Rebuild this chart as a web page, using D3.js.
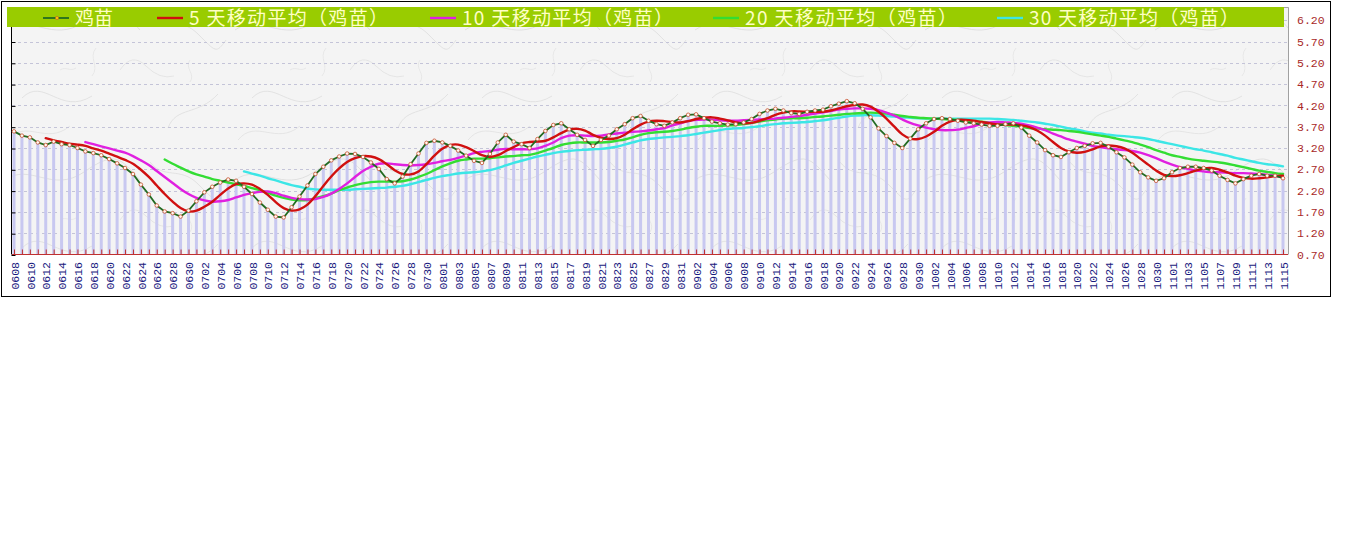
<!DOCTYPE html>
<html><head><meta charset="utf-8">
<script src="https://cdn.jsdelivr.net/npm/d3@7"></script>
<style>html,body{margin:0;padding:0;background:#fff;}svg{display:block}</style>
</head><body>
<svg id="chart" width="1345" height="541"></svg>
<script>
// ---------- data ----------
const dates = [
"0608","0609","0610","0611","0612","0613","0614","0615","0616","0617","0618","0619","0620","0621","0622","0623","0624","0625","0626","0627","0628","0629","0630",
"0701","0702","0703","0704","0705","0706","0707","0708","0709","0710","0711","0712","0713","0714","0715","0716","0717","0718","0719","0720","0721","0722","0723","0724","0725","0726","0727","0728","0729","0730","0731",
"0801","0802","0803","0804","0805","0806","0807","0808","0809","0810","0811","0812","0813","0814","0815","0816","0817","0818","0819","0820","0821","0822","0823","0824","0825","0826","0827","0828","0829","0830","0831",
"0901","0902","0903","0904","0905","0906","0907","0908","0909","0910","0911","0912","0913","0914","0915","0916","0917","0918","0919","0920","0921","0922","0923","0924","0925","0926","0927","0928","0929","0930",
"1001","1002","1003","1004","1005","1006","1007","1008","1009","1010","1011","1012","1013","1014","1015","1016","1017","1018","1019","1020","1021","1022","1023","1024","1025","1026","1027","1028","1029","1030","1031",
"1101","1102","1103","1104","1105","1106","1107","1108","1109","1110","1111","1112","1113","1114","1115"];

const price = [
3.59,3.49,3.45,3.33,3.27,3.35,3.29,3.27,3.20,3.12,
3.08,3.03,2.94,2.84,2.73,2.59,2.34,2.11,1.85,1.71,
1.67,1.59,1.73,1.95,2.16,2.29,2.39,2.46,2.43,2.29,
2.12,1.92,1.75,1.59,1.57,1.81,2.06,2.32,2.59,2.76,
2.91,3.00,3.07,3.06,2.99,2.86,2.71,2.47,2.37,2.53,
2.82,3.07,3.32,3.37,3.33,3.25,3.14,3.02,2.90,2.85,
3.06,3.33,3.51,3.35,3.29,3.20,3.41,3.60,3.74,3.78,
3.64,3.51,3.39,3.25,3.39,3.49,3.64,3.76,3.90,3.95,
3.84,3.76,3.72,3.80,3.90,3.98,3.99,3.90,3.82,3.78,
3.75,3.76,3.80,3.88,4.00,4.08,4.12,4.08,4.02,4.00,
4.05,4.08,4.10,4.18,4.24,4.30,4.25,4.12,3.92,3.66,
3.48,3.32,3.20,3.42,3.64,3.78,3.88,3.90,3.88,3.84,
3.80,3.78,3.75,3.72,3.72,3.76,3.78,3.68,3.49,3.33,
3.15,3.03,2.99,3.10,3.20,3.25,3.31,3.32,3.23,3.10,
2.98,2.81,2.63,2.51,2.43,2.49,2.63,2.73,2.76,2.76,
2.73,2.67,2.55,2.45,2.37,2.47,2.55,2.59,2.55,2.55,2.49];

const ma5 = [null,null,null,null,
3.43,3.38,3.34,3.30,3.28,3.25,3.19,3.14,3.07,3.00,
2.92,2.83,2.69,2.52,2.32,2.12,1.94,1.79,1.71,1.73,
1.82,1.94,2.10,2.25,2.35,2.37,2.34,2.24,2.10,1.93,
1.79,1.73,1.76,1.87,2.07,2.31,2.53,2.72,2.87,2.96,
3.01,3.00,2.94,2.82,2.68,2.59,2.58,2.65,2.82,3.02,
3.18,3.27,3.28,3.22,3.13,3.03,2.99,3.03,3.13,3.22,
3.31,3.34,3.35,3.37,3.45,3.55,3.63,3.65,3.61,3.51,
3.44,3.41,3.43,3.51,3.64,3.75,3.82,3.84,3.83,3.81,
3.80,3.83,3.88,3.91,3.92,3.89,3.85,3.80,3.78,3.79,
3.84,3.90,3.98,4.03,4.06,4.06,4.05,4.05,4.05,4.08,
4.13,4.18,4.21,4.22,4.17,4.05,3.89,3.70,3.52,3.42,
3.41,3.47,3.58,3.72,3.82,3.86,3.86,3.84,3.81,3.78,
3.75,3.75,3.75,3.73,3.69,3.61,3.49,3.34,3.20,3.12,
3.09,3.11,3.17,3.24,3.26,3.24,3.19,3.09,2.95,2.81,
2.67,2.57,2.54,2.56,2.61,2.67,2.72,2.73,2.69,2.63,
2.55,2.50,2.48,2.49,2.51,2.54,2.55];

const ma10 = [null,null,null,null,null,null,null,null,null,
3.34,3.29,3.24,3.19,3.14,3.09,3.01,2.91,2.80,2.66,
2.52,2.38,2.24,2.12,2.03,1.97,1.94,1.95,1.98,2.04,
2.10,2.14,2.17,2.18,2.14,2.08,2.03,2.00,1.99,2.00,
2.05,2.13,2.24,2.37,2.52,2.66,2.76,2.83,2.84,2.82,
2.80,2.79,2.80,2.82,2.85,2.89,2.92,2.97,3.02,3.08,
3.11,3.13,3.16,3.18,3.17,3.17,3.17,3.19,3.25,3.33,
3.43,3.49,3.50,3.49,3.48,3.49,3.52,3.54,3.56,3.58,
3.59,3.61,3.64,3.67,3.73,3.78,3.83,3.86,3.87,3.87,
3.85,3.84,3.84,3.85,3.86,3.87,3.88,3.89,3.91,3.93,
3.95,3.98,4.01,4.04,4.07,4.10,4.12,4.13,4.13,4.12,
4.09,4.03,3.96,3.87,3.79,3.73,3.68,3.64,3.62,3.62,
3.63,3.67,3.71,3.77,3.80,3.81,3.80,3.79,3.77,3.73,
3.68,3.62,3.54,3.47,3.40,3.35,3.30,3.25,3.22,3.19,
3.17,3.15,3.13,3.09,3.03,2.96,2.88,2.81,2.75,2.71,
2.67,2.65,2.63,2.63,2.62,2.61,2.61,2.60,2.59,2.57,
2.55,2.52];

const ma20 = [null,null,null,null,null,null,null,null,null,null,
null,null,null,null,null,null,null,null,null,
2.93,2.83,2.74,2.65,2.58,2.53,2.47,2.43,2.39,2.35,
2.31,2.26,2.21,2.15,2.08,2.03,1.99,1.97,1.98,2.02,
2.07,2.13,2.21,2.27,2.33,2.37,2.40,2.41,2.41,2.41,
2.42,2.46,2.52,2.59,2.68,2.77,2.84,2.90,2.93,2.95,
2.95,2.96,2.98,3.00,3.01,3.03,3.04,3.08,3.14,3.20,
3.27,3.31,3.33,3.33,3.33,3.33,3.34,3.37,3.40,3.45,
3.51,3.55,3.57,3.58,3.60,3.63,3.67,3.70,3.72,3.72,
3.72,3.73,3.74,3.76,3.79,3.82,3.85,3.87,3.89,3.90,
3.90,3.91,3.93,3.94,3.96,3.98,4.00,4.01,4.02,4.03,
4.02,4.01,3.98,3.95,3.93,3.91,3.90,3.89,3.88,3.87,
3.86,3.85,3.83,3.82,3.79,3.77,3.74,3.72,3.70,3.67,
3.66,3.64,3.63,3.62,3.60,3.58,3.55,3.52,3.49,3.46,
3.42,3.38,3.34,3.28,3.22,3.15,3.09,3.03,2.99,2.95,
2.92,2.90,2.88,2.86,2.83,2.79,2.75,2.71,2.67,2.64,
2.61,2.59];

const ma30 = [null,null,null,null,null,null,null,null,null,null,
null,null,null,null,null,null,null,null,null,null,
null,null,null,null,null,null,null,null,null,
2.65,2.60,2.55,2.49,2.44,2.38,2.33,2.29,2.25,2.23,
2.22,2.22,2.22,2.22,2.23,2.24,2.25,2.26,2.27,2.29,
2.31,2.35,2.40,2.45,2.50,2.54,2.57,2.60,2.62,2.63,
2.65,2.68,2.73,2.79,2.85,2.90,2.95,3.00,3.04,3.08,
3.11,3.13,3.15,3.16,3.17,3.18,3.20,3.23,3.28,3.33,
3.38,3.41,3.43,3.45,3.46,3.48,3.50,3.53,3.56,3.59,
3.62,3.65,3.66,3.67,3.69,3.71,3.74,3.76,3.78,3.79,
3.80,3.81,3.83,3.85,3.88,3.91,3.94,3.96,3.97,3.97,
3.96,3.95,3.94,3.92,3.91,3.90,3.89,3.89,3.89,3.89,
3.89,3.89,3.89,3.89,3.89,3.88,3.87,3.86,3.84,3.82,
3.80,3.77,3.74,3.70,3.66,3.63,3.59,3.56,3.54,3.51,
3.49,3.48,3.46,3.44,3.41,3.37,3.33,3.29,3.25,3.21,
3.17,3.14,3.10,3.06,3.02,2.97,2.93,2.89,2.85,2.82,
2.80,2.77];

const yTicks = [0.70,1.20,1.70,2.20,2.70,3.20,3.70,4.20,4.70,5.20,5.70,6.20];
const seriesNames = ["鸡苗","5 天移动平均（鸡苗）","10 天移动平均（鸡苗）","20 天移动平均（鸡苗）","30 天移动平均（鸡苗）"];

// ---------- drawing ----------
const svg = d3.select("#chart");
const W = 1345, H = 541;
const P = {left: 12, right: 1288, top: 7, bottom: 254.5};

svg.append("rect").attr("width", W).attr("height", H).attr("fill", "#fff");

// paper-like texture
const defs = svg.append("defs");
const pat = defs.append("pattern").attr("id","paper").attr("patternUnits","userSpaceOnUse")
  .attr("width",230).attr("height",150);
pat.append("rect").attr("width",230).attr("height",150).attr("fill","#f4f4f4");
[["M5,30 C30,12 52,44 84,22 S120,8 140,30",0.8],
 ["M150,12 c14,18 30,4 48,22 s18,20 28,6",0.7],
 ["M22,98 C44,76 60,116 92,96",0.7],
 ["M120,70 q12,-18 26,-4 t28,10",0.6],
 ["M8,140 C26,118 46,146 70,126",0.6],
 ["M168,128 c8,-22 30,-12 50,-34",0.7],
 ["M96,48 c-8,10 4,18 -4,28",0.5],
 ["M190,60 c-6,8 6,14 0,22",0.5],
 ["M60,70 c6,-4 10,2 16,-2",0.5]].forEach(([d,w]) => {
  pat.append("path").attr("d",d).attr("fill","none").attr("stroke","#dadada").attr("stroke-width",w);
});

const x = d3.scalePoint().domain(dates).range([14, 1283]);
const y = d3.scaleLinear().domain([0.7, 6.2]).range([254.5, 20.2]);

// plot background
svg.append("rect").attr("x", P.left).attr("y", P.top)
  .attr("width", P.right - P.left + 1).attr("height", P.bottom - P.top)
  .attr("fill", "url(#paper)");
svg.append("path").attr("d", `M${P.left},${P.top+0.5}H${P.right+0.5}V${P.bottom}`)
  .attr("fill","none").attr("stroke","#a0a0a0").attr("stroke-width",1);

// gridlines
svg.append("g").selectAll("line").data(yTicks.slice(1)).join("line")
  .attr("x1", P.left).attr("x2", P.right)
  .attr("y1", d => Math.round(y(d)) + 0.5).attr("y2", d => Math.round(y(d)) + 0.5)
  .attr("stroke", "#c4c4d8").attr("stroke-dasharray", "3,3").attr("stroke-width", 1);

// bars
svg.append("g").selectAll("rect").data(price).join("rect")
  .attr("x", (d, i) => x(dates[i]) - 1.5)
  .attr("width", 3)
  .attr("y", d => y(d))
  .attr("height", d => y(0.7) - y(d))
  .attr("fill", "#c8c8f0");

// bottom red tick axis
const gTicks = svg.append("g").attr("transform", `translate(0,${P.bottom})`)
  .call(d3.axisBottom(x).tickSize(-5).tickSizeOuter(0).tickFormat(""));
gTicks.select(".domain").remove();
gTicks.selectAll("line").attr("stroke", "#c03030");
svg.append("line").attr("x1", P.left).attr("x2", P.right).attr("y1", P.bottom).attr("y2", P.bottom)
  .attr("stroke", "#c03030").attr("stroke-width", 1.2);

// x labels
const gx = svg.append("g").attr("transform", "translate(0,262)")
  .call(d3.axisBottom(x).tickValues(dates.filter((d, i) => i % 2 === 0)).tickSize(0).tickPadding(0));
gx.select(".domain").remove();
gx.selectAll("text")
  .attr("transform", "rotate(-90)").attr("x", 0).attr("y", 0).attr("dy", "0.36em")
  .attr("text-anchor", "end")
  .attr("fill", "#1a1a80").style("font-family", "'Liberation Mono', monospace").style("font-size", "11.5px");

// left axis
svg.append("line").attr("x1", 11.5).attr("x2", 11.5).attr("y1", 27).attr("y2", P.bottom)
  .attr("stroke", "#000").attr("stroke-width", 1);
const gl = svg.append("g").attr("transform", "translate(11.5,0)")
  .call(d3.axisRight(y).tickValues(yTicks).tickSize(4).tickFormat(""));
gl.select(".domain").remove();
gl.selectAll("line").attr("stroke", "#000").attr("transform", "translate(0,0.5)");

// right labels
const gr = svg.append("g").attr("transform", "translate(1297,0)")
  .call(d3.axisRight(y).tickValues(yTicks).tickSize(0).tickPadding(0).tickFormat(d3.format(".2f")));
gr.select(".domain").remove();
gr.selectAll("text").attr("fill", "#a82828")
  .style("font-family", "'Liberation Mono', monospace").style("font-size", "11.5px");

// lines
const mkLine = curve => d3.line().defined(d => d != null)
  .x((d, i) => x(dates[i])).y(d => y(d)).curve(curve);
const maSeries = [
  {v: ma30, c: "#3ce6e6"},
  {v: ma20, c: "#33dd33"},
  {v: ma10, c: "#e020e0"},
  {v: ma5,  c: "#d01010"}];
maSeries.forEach(s => {
  svg.append("path").attr("d", mkLine(d3.curveCatmullRom)(s.v))
    .attr("fill", "none").attr("stroke", s.c).attr("stroke-width", 2.4)
    .attr("stroke-linejoin", "round").attr("stroke-linecap", "round");
});
svg.append("path").attr("d", mkLine(d3.curveLinear)(price))
  .attr("fill", "none").attr("stroke", "#226b22").attr("stroke-width", 1.8);
svg.append("g").selectAll("circle").data(price).join("circle")
  .attr("cx", (d, i) => x(dates[i])).attr("cy", d => y(d)).attr("r", 1.8)
  .attr("fill", "#fff8f0").attr("stroke", "#c85030").attr("stroke-width", 0.8);

// legend bar
svg.append("rect").attr("x", 7).attr("y", 7).attr("width", 1277).attr("height", 20).attr("fill", "#99cc00");
const legendColors = ["#226b22", "#d01010", "#e020e0", "#33dd33", "#3ce6e6"];
const legendX = [43, 157, 430, 713, 997];
const legendW = [38, 199, 211, 212, 210];
const lg = svg.append("g");
seriesNames.forEach((name, k) => {
  const sx = legendX[k];
  lg.append("line").attr("x1", sx).attr("x2", sx + 26).attr("y1", 18).attr("y2", 18)
    .attr("stroke", legendColors[k]).attr("stroke-width", k === 0 ? 1.8 : 2.4);
  if (k === 0) lg.append("circle").attr("cx", sx + 14).attr("cy", 18).attr("r", 1.6)
    .attr("fill", "#ffcc00").attr("stroke", "#c85030").attr("stroke-width", 0.6);
  lg.append("text").attr("x", sx + 32).attr("y", 24.5).text(name)
    .attr("textLength", legendW[k]).attr("lengthAdjust", "spacing")
    .attr("fill", "#ffffc4").style("font-family", "'Noto Sans CJK SC', sans-serif").style("font-size", "19px");
});

// outer border
svg.append("rect").attr("x", 1.5).attr("y", 1.5).attr("width", 1329).attr("height", 295)
  .attr("fill", "none").attr("stroke", "#000").attr("stroke-width", 1);
</script>
</body></html>
